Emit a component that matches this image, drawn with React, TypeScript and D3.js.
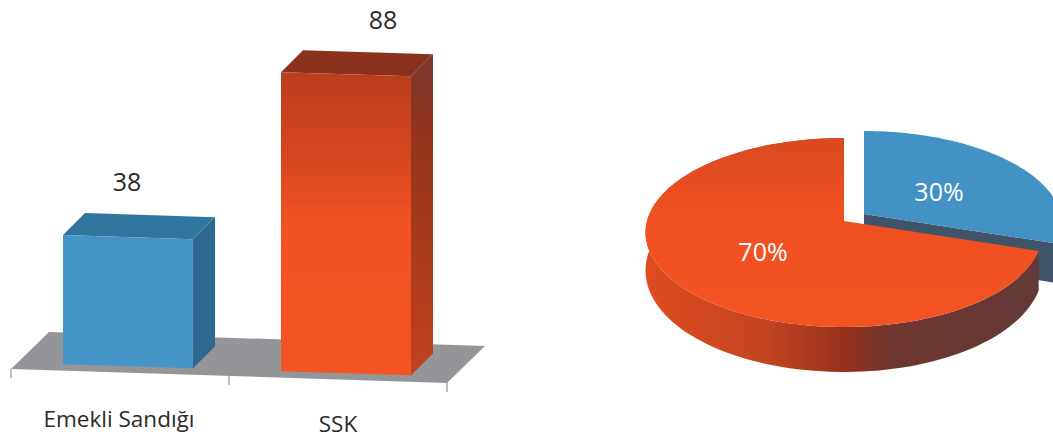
import React from "react";
import * as d3 from "d3";

const categories = ["Emekli Sandığı", "SSK"];
const barValues = [38, 88];
const barLabels = ["38", "88"];
const pieValues = [30, 70];
const pieLabels = ["30%", "70%"];
const font = "'Open Sans', 'Noto Sans', sans-serif";

// bar geometry
const x = d3.scaleBand<string>().domain(categories).range([11, 447]).paddingInner(0.4037).paddingOuter(0.2018);
const h = d3.scaleLinear().domain([0, 88]).range([0, 299]);
const frontLine = d3.scaleLinear().domain([11, 447]).range([369, 383]);
const DX = 22, DY = -22, BAR_SHIFT = 8, BAR_LIFT = 6.5;
const poly = (p: number[][]) => "M" + p.map((q) => q.join(",")).join("L") + "Z";

// pie geometry (perspective projection of a unit circle)
const CX = 844, CY = 221, A = 197, a = 93.1, b = -0.1217;
const project = (t: number, o = { x: 0, y: 0 }, drop = false) => {
  const u = Math.sin(t), v = -Math.cos(t), d = 1 + b * v;
  const px = (A * u) / d;
  const py = (a * v) / d + (drop ? 37 + 8 * v : 0);
  return [CX + px + o.x, CY + py + o.y] as [number, number];
};
const arcPts = (s: number, e: number, o: { x: number; y: number }, drop = false) =>
  d3.range(0, 121).map((i) => project(s + ((e - s) * i) / 120, o, drop));
const line = d3.line();

export default function App() {
  const slices = d3.pie<number>().sort(null)(pieValues);
  const [blue, orange] = slices;
  const off = { x: 20, y: -7 };
  const zero = { x: 0, y: 0 };
  const labelPos = [
    [939, 192],
    [763, 252],
  ];
  const blueApex: [number, number] = [CX + off.x, CY + off.y];
  const blueEnd = project(blue.endAngle, off);
  const blueEndLow = project(blue.endAngle, off, true);
  return (
    <svg width={1053} height={438} style={{ position: "absolute", left: 0, top: 0, display: "block" }}>
      <defs>
        <linearGradient id="bf" x1="0" y1="0" x2="0" y2="1">
          <stop offset="0" stopColor="#b83d1c" />
          <stop offset="0.32" stopColor="#dc4820" />
          <stop offset="0.5" stopColor="#f25223" />
          <stop offset="1" stopColor="#f45323" />
        </linearGradient>
        <linearGradient id="bs" x1="0" y1="0" x2="0" y2="1">
          <stop offset="0" stopColor="#7a3830" />
          <stop offset="0.25" stopColor="#93341a" />
          <stop offset="0.6" stopColor="#a83a1a" />
          <stop offset="1" stopColor="#c24220" />
        </linearGradient>
        <linearGradient id="pt" x1="0" y1="0" x2="0" y2="1">
          <stop offset="0" stopColor="#da491f" />
          <stop offset="0.4" stopColor="#f05022" />
          <stop offset="1" stopColor="#f45323" />
        </linearGradient>
        <linearGradient id="ps" gradientUnits="userSpaceOnUse" x1="647" y1="0" x2="1040" y2="0">
          <stop offset="0" stopColor="#e04b20" />
          <stop offset="0.3" stopColor="#c24520" />
          <stop offset="0.5" stopColor="#97321a" />
          <stop offset="0.62" stopColor="#6f3631" />
          <stop offset="1" stopColor="#633937" />
        </linearGradient>
      </defs>

      {/* floor */}
      <path d={poly([[11, 369], [49, 332], [485, 346], [447, 383]])} fill="#939598" />
      {[11, 229, 447].map((t) => (
        <line key={t} x1={t} x2={t} y1={frontLine(t)} y2={frontLine(t) + 9} stroke="#939598" strokeWidth={1.2} />
      ))}

      {/* bars */}
      {categories.map((c, i) => {
        const x0 = x(c)! + BAR_SHIFT;
        const x1 = x0 + x.bandwidth();
        const y0 = frontLine(x0) - BAR_LIFT;
        const y1 = frontLine(x1) - BAR_LIFT;
        const H = h(barValues[i]);
        const blueBar = i === 0;
        return (
          <g key={c}>
            <path
              d={poly([[x1, y1 - H], [x1 + DX, y1 - H + DY], [x1 + DX, y1 + DY], [x1, y1]])}
              fill={blueBar ? "#2c6890" : "url(#bs)"}
            />
            <path
              d={poly([[x0, y0 - H], [x0 + DX, y0 - H + DY], [x1 + DX, y1 - H + DY], [x1, y1 - H]])}
              fill={blueBar ? "#31769f" : "#8b321e"}
            />
            <path
              d={poly([[x0, y0 - H], [x1, y1 - H], [x1, y1], [x0, y0]])}
              fill={blueBar ? "#4695c8" : "url(#bf)"}
            />
            <text x={x0 + x.bandwidth() / 2 - (blueBar ? 1 : -37)} y={y0 - H + (blueBar ? -44 : -43)} textAnchor="middle" fontFamily={font} fontSize={25} fill="#2a2a2a">
              {barLabels[i]}
            </text>
            <text x={x(c)! + x.bandwidth() / 2 - (blueBar ? 1 : 0)} y={blueBar ? 427 : 432} textAnchor="middle" fontFamily={font} fontSize={22.5} fill="#2a2a2a">
              {c}
            </text>
          </g>
        );
      })}

      {/* pie: blue slice */}
      <path
        d={poly([blueApex, blueEnd, blueEndLow, [blueApex[0], blueApex[1] + 38]])}
        fill="#3f5468"
      />
      <path d={line([blueApex, ...arcPts(blue.startAngle, blue.endAngle, off)]) + "Z"} fill="#4292c6" />

      {/* pie: orange slice */}
      <path
        d={line([...arcPts(orange.startAngle, orange.endAngle, zero), ...arcPts(orange.startAngle, orange.endAngle, zero, true).reverse()]) + "Z"}
        fill="url(#ps)"
      />
      <path d={line([[CX, CY], ...arcPts(orange.startAngle, orange.endAngle, zero)]) + "Z"} fill="url(#pt)" />

      {pieLabels.map((l, i) => (
        <text key={l} x={labelPos[i][0]} y={labelPos[i][1] + 9} textAnchor="middle" fontFamily={font} fontSize={25} fill="#ffffff">
          {l}
        </text>
      ))}
    </svg>
  );
}
